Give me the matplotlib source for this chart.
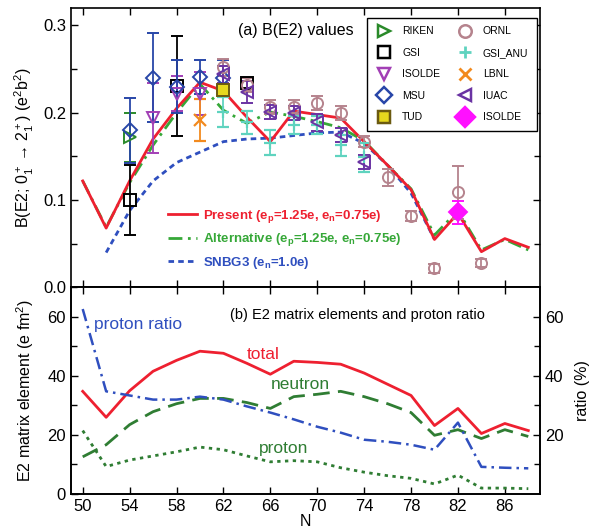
import matplotlib
matplotlib.use('Agg')
import matplotlib.pyplot as plt
from matplotlib.lines import Line2D
from matplotlib.ticker import MultipleLocator, FixedLocator

plt.rcParams['font.family'] = ['Liberation Sans', 'DejaVu Sans']
plt.rcParams['mathtext.default'] = 'regular'

# ---------------- data: panel (a) ----------------
N_th = [50, 52, 54, 56, 58, 60, 62, 64, 66, 68, 70, 72, 74, 76, 78, 80, 82, 84, 86, 88]
present = [0.122, 0.068, 0.122, 0.170, 0.205, 0.235, 0.225, 0.195, 0.167, 0.202,
           0.198, 0.194, 0.167, 0.140, 0.112, 0.055, 0.085, 0.041, 0.056, 0.046]
alternative = [0.122, 0.069, 0.120, 0.163, 0.200, 0.233, 0.203, 0.188, 0.201, 0.196,
               0.190, 0.183, 0.168, 0.140, 0.113, 0.060, 0.088, 0.043, 0.055, 0.043]
N_snbg3 = [52, 54, 56, 58, 60, 62, 64, 66, 68, 70, 72, 74, 76, 78, 80]
snbg3 = [0.040, 0.088, 0.122, 0.143, 0.155, 0.167, 0.170, 0.171, 0.174, 0.177,
         0.178, 0.165, 0.140, 0.108, 0.055]

riken_N = [54]
riken_B = [0.172]
riken_e = [0.028]

gsi_N = [54, 58, 64]
gsi_B = [0.100, 0.231, 0.234]
gsi_e = [0.040, 0.057, 0.006]

isolde_N = [56, 58, 60]
isolde_B = [0.194, 0.222, 0.222]
isolde_e = [0.040, 0.020, 0.025]

msu_N = [54, 56, 58, 60, 62]
msu_B = [0.180, 0.240, 0.230, 0.241, 0.240]
msu_e = [0.037, 0.051, 0.030, 0.020, 0.020]

tud_N = [62]
tud_B = [0.226]
tud_e = [0.007]

ornl_N = [62, 64, 66, 68, 70, 72, 74, 76, 78, 80, 82, 84]
ornl_B = [0.252, 0.232, 0.207, 0.207, 0.211, 0.200, 0.167, 0.126, 0.082, 0.022, 0.109, 0.028]
ornl_e = [0.010, 0.008, 0.008, 0.008, 0.008, 0.008, 0.006, 0.010, 0.006, 0.005, 0.030, 0.005]

anu_N = [62, 64, 66, 68, 70, 72, 74]
anu_B = [0.201, 0.189, 0.166, 0.186, 0.186, 0.163, 0.149]
anu_e = [0.017, 0.013, 0.014, 0.010, 0.010, 0.012, 0.017]

lbnl_N = [60]
lbnl_B = [0.192]
lbnl_e = [0.024]

iuac_N = [62, 64, 66, 68, 70, 72, 74]
iuac_B = [0.244, 0.224, 0.201, 0.200, 0.189, 0.175, 0.144]
iuac_e = [0.010, 0.013, 0.008, 0.008, 0.010, 0.008, 0.008]

isolde2_N = [82]
isolde2_B = [0.086]
isolde2_e = [0.013]

# ---------------- data: panel (b) ----------------
total = [34.8, 26.0, 35.0, 41.6, 45.3, 48.4, 47.7, 44.3, 40.6, 45.0,
         44.6, 44.0, 41.0, 37.2, 33.4, 23.2, 29.0, 20.5, 23.9, 21.5]
neutron = [12.6, 16.7, 23.5, 27.9, 30.6, 32.4, 32.4, 31.0, 29.0, 33.0,
           33.8, 34.8, 33.0, 30.6, 27.6, 19.9, 21.8, 18.8, 21.8, 19.5]
proton = [21.5, 9.3, 11.5, 12.9, 14.3, 15.9, 15.0, 12.9, 10.9, 11.3,
          10.9, 8.9, 7.4, 6.2, 5.3, 3.4, 6.4, 2.0, 2.0, 1.8]
ratio = [62.7, 34.8, 33.4, 32.0, 32.0, 33.0, 32.0, 29.7, 27.6, 25.3,
         22.8, 20.8, 18.4, 17.7, 16.7, 15.0, 24.2, 9.2, 8.9, 8.7]

xticks = [50, 54, 58, 62, 66, 70, 74, 78, 82, 86]

# ---------------- figure ----------------
fig = plt.figure(figsize=(5.9, 5.28), dpi=100)
ax1 = fig.add_axes([0.1203, 0.4555, 0.795, 0.5293])
ax2 = fig.add_axes([0.1203, 0.0644, 0.795, 0.3911])

RED = '#ee2030'
GRN = '#36a838'
BLU = '#2f4fbf'
DGRN = '#2f7d33'

ax1.plot(N_th, present, color=RED, lw=2.0, zorder=5)
ax1.plot(N_th, alternative, color=GRN, lw=2.0, ls=(0, (5, 2, 1, 2)), zorder=4)
ax1.plot(N_snbg3, snbg3, color=BLU, lw=2.0, ls=(0, (2, 1.5)), zorder=3)

exp = [
    (riken_N, riken_B, riken_e, '>', '#2a8a2a', False, 'RIKEN'),
    (gsi_N, gsi_B, gsi_e, 's', 'black', False, 'GSI'),
    (isolde_N, isolde_B, isolde_e, 'v', '#a23fb5', False, 'ISOLDE'),
    (msu_N, msu_B, msu_e, 'D', '#2846a8', False, 'MSU'),
    (tud_N, tud_B, tud_e, 's', '#e6d81e', True, 'TUD'),
    (ornl_N, ornl_B, ornl_e, 'o', '#b5838d', False, 'ORNL'),
    (anu_N, anu_B, anu_e, '+', '#5fd3bf', False, 'GSI_ANU'),
    (lbnl_N, lbnl_B, lbnl_e, 'x', '#f28a1e', False, 'LBNL'),
    (iuac_N, iuac_B, iuac_e, '<', '#6a33a3', False, 'IUAC'),
    (isolde2_N, isolde2_B, isolde2_e, 'D', '#ff10ff', True, 'ISOLDE'),
]
handles = []
for xs, ys, es, mk, col, filled, lab in exp:
    ms = 8 if mk not in ('D',) else 7
    if lab == 'ISOLDE' and filled:
        ms = 9
    if filled:
        mfc = col
        mec = '#6b5a10' if lab == 'TUD' else col
    else:
        mfc = 'none'
        mec = col
    mew = 1.6 if mk in ('+', 'x') else 1.4
    ax1.errorbar(xs, ys, yerr=es, fmt=mk, ms=ms, mfc=mfc, mec=mec, mew=mew,
                 ecolor=col, elinewidth=1.3, capsize=4, capthick=1.3, zorder=6)
    handles.append(Line2D([], [], ls='none', marker=mk, ms=ms + 1, mfc=mfc,
                          mec=mec, mew=mew + 0.4, label=lab))

leg = ax1.legend(handles=handles, ncol=2, loc='upper right', bbox_to_anchor=(0.994, 0.966),
                 fancybox=False, edgecolor='black', framealpha=1, fontsize=7.5,
                 handletextpad=1.0, columnspacing=1.6, labelspacing=1.1,
                 borderpad=0.85, handlelength=1.5, borderaxespad=0)
leg.get_frame().set_linewidth(1.0)
ax1.add_artist(leg)

th_handles = [
    Line2D([], [], color=RED, lw=2.0, label='Present (e$_p$=1.25e, e$_n$=0.75e)'),
    Line2D([], [], color=GRN, lw=2.0, ls=(0, (5, 2, 1, 2)), label='Alternative (e$_p$=1.25e, e$_n$=0.75e)'),
    Line2D([], [], color=BLU, lw=2.0, ls=(0, (2, 1.5)), label='SNBG3 (e$_n$=1.0e)'),
]
leg2 = ax1.legend(handles=th_handles, loc='lower left', bbox_to_anchor=(0.195, 0.04),
                  frameon=False, labelcolor=[RED, GRN, BLU],
                  prop={'weight': 'bold', 'size': 9.5}, handlelength=2.2,
                  handletextpad=0.5, labelspacing=0.5, borderaxespad=0)

ax1.text(0.356, 0.92, '(a) B(E2) values', transform=ax1.transAxes, fontsize=11.5,
         va='center')

ax1.set_xlim(49, 89)
ax1.set_ylim(0, 0.32)
ax1.xaxis.set_major_locator(FixedLocator(xticks))
ax1.yaxis.set_minor_locator(MultipleLocator(0.05))
ax1.set_yticks([0.0, 0.1, 0.2, 0.3])
ax1.set_yticklabels(['0.0', '0.1', '0.2', '0.3'])
ax1.tick_params(axis='both', which='both', direction='in', top=True, right=True,
                labelbottom=False, labelsize=12, length=5, width=1)
ax1.tick_params(axis='y', which='minor', length=4)
ax1.set_ylabel('B(E2; 0$_1^+$$\\rightarrow$2$_1^+$) (e$^2$b$^2$)', fontsize=11.5, labelpad=5)

# ---------------- panel (b) ----------------
ax2.plot(N_th, total, color=RED, lw=2.0, zorder=4)
ax2.plot(N_th, neutron, color=DGRN, lw=2.0, ls=(0, (6, 3)), zorder=3)
ax2.plot(N_th, proton, color=DGRN, lw=2.0, ls=(0, (1.2, 1.6)), zorder=3)
ax2r = ax2.twinx()
ax2r.plot(N_th, ratio, color=BLU, lw=1.8, ls=(0, (5, 2, 1, 2)))

ax2.set_xlim(49, 89)
ax2.set_ylim(0, 70)
ax2r.set_ylim(0, 70)
ax2.xaxis.set_major_locator(FixedLocator(xticks))
ax2.yaxis.set_major_locator(MultipleLocator(20))
ax2.yaxis.set_minor_locator(MultipleLocator(10))
ax2r.yaxis.set_major_locator(FixedLocator([20, 40, 60]))
ax2r.yaxis.set_minor_locator(FixedLocator([10, 30, 50]))
ax2.tick_params(axis='both', which='both', direction='in', top=True, labelsize=12,
                length=5, width=1)
ax2.tick_params(axis='y', which='minor', length=4)
ax2r.tick_params(axis='y', which='both', direction='in', labelsize=12, length=5, width=1)
ax2r.tick_params(axis='y', which='minor', length=4)

ax2.set_ylabel('E2 matrix element (e fm$^2$)', fontsize=11.5, labelpad=8)
ax2r.set_ylabel('ratio (%)', fontsize=11.5, labelpad=8)
ax2.set_xlabel('N', fontsize=11.5, labelpad=0)

ax2.text(0.339, 0.865, '(b) E2 matrix elements and proton ratio', transform=ax2.transAxes,
         fontsize=10.5, va='center')
ax2.text(51.0, 57.3, 'proton ratio', color=BLU, fontsize=12.5, ha='left', va='center')
ax2.text(65.4, 47.4, 'total', color=RED, fontsize=12.5, ha='center', va='center')
ax2.text(68.6, 37.2, 'neutron', color=DGRN, fontsize=12.5, ha='center', va='center')
ax2.text(67.1, 15.3, 'proton', color=DGRN, fontsize=12.5, ha='center', va='center')

for ax in (ax1, ax2, ax2r):
    for s in ax.spines.values():
        s.set_linewidth(1.2)

fig.savefig('out.png', dpi=100)
